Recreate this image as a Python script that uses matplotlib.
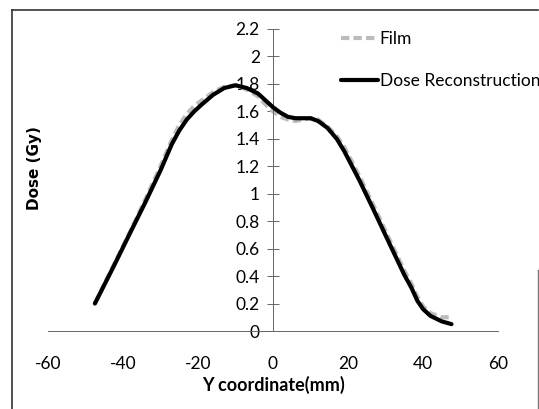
import numpy as np
import matplotlib
matplotlib.use("Agg")
import matplotlib.pyplot as plt
from matplotlib.lines import Line2D
from matplotlib.font_manager import FontProperties

# data
recon_x = [-47.5, -42.5, -38, -34, -30, -27, -25, -23, -21, -19, -16, -13, -10, -7, -4, -2, 0,
           2, 4, 6, 8, 10, 12, 14.5, 17, 19, 23, 26.7, 31, 35, 37, 38.5, 40, 42, 45, 47.6]
recon_y = [0.20, 0.47, 0.72, 0.94, 1.17, 1.36, 1.46, 1.54, 1.60, 1.65, 1.72, 1.77, 1.79, 1.77, 1.73, 1.68, 1.63,
           1.59, 1.56, 1.55, 1.55, 1.55, 1.53, 1.48, 1.40, 1.31, 1.10, 0.89, 0.64, 0.41, 0.31, 0.22, 0.16, 0.11, 0.07, 0.05]

film_x = [-47.5, -42.5, -38, -34, -30, -27, -25, -23, -21, -19, -16, -13, -10, -7, -4, -2, 0,
          2, 4, 6, 8, 10, 12, 14.5, 17, 19, 23, 26.7, 31, 35, 37, 38.5, 40, 42, 45, 47.6]
film_y = [0.20, 0.48, 0.73, 0.96, 1.20, 1.39, 1.50, 1.58, 1.64, 1.68, 1.74, 1.78, 1.79, 1.76, 1.71, 1.65, 1.60,
          1.56, 1.54, 1.53, 1.54, 1.55, 1.54, 1.49, 1.42, 1.34, 1.13, 0.92, 0.67, 0.44, 0.34, 0.25, 0.18, 0.13, 0.10, 0.10]

x_ticks = [-60, -40, -20, 0, 20, 40, 60]
y_ticks = [0, 0.2, 0.4, 0.6, 0.8, 1, 1.2, 1.4, 1.6, 1.8, 2, 2.2]
y_tick_labels = ['0', '0.2', '0.4', '0.6', '0.8', '1', '1.2', '1.4', '1.6', '1.8', '2', '2.2']

plt.rcParams['font.family'] = ['Lato', 'DejaVu Sans']

W, H = 539, 409
fig = plt.figure(figsize=(W / 100, H / 100), dpi=100)
ax = fig.add_axes([48 / W, 1 - 331 / H, 450 / W, 302 / H])

ax.plot(film_x, film_y, color='#bcbcbc', lw=3, dashes=(2, 1), label='Film', zorder=2)
ax.plot(recon_x, recon_y, color='black', lw=3, label='Dose Reconstruction', zorder=3,
        solid_capstyle='round')

ax.set_xlim(-60, 60)
ax.set_ylim(0, 2.2)
ax.set_xticks(x_ticks)
ax.set_yticks(y_ticks)
ax.set_xticklabels([str(v) for v in x_ticks])
ax.set_yticklabels(y_tick_labels)

for s in ['top', 'right']:
    ax.spines[s].set_visible(False)
ax.spines['left'].set_position(('data', 0))
ax.spines['left'].set_color('#666666')
ax.spines['left'].set_linewidth(0.7)
ax.spines['bottom'].set_color('#666666')
ax.spines['bottom'].set_linewidth(0.7)
ax.tick_params(axis='y', direction='inout', length=9, width=0.7, color='#666666',
               pad=5, labelsize=12.5)
ax.tick_params(axis='x', length=0, pad=18, labelsize=12.5)

ax.set_xlabel('Y coordinate(mm)', fontsize=13, fontweight='bold', labelpad=3)
# y label sits near the chart frame, drawn in a wider bold face
ylab_font = FontProperties(family='DejaVu Sans', weight='bold', size=11)
fig.text(35 / W, 1 - 168 / H, 'Dose (Gy)', rotation=90, ha='center', va='center',
         fontproperties=ylab_font)

ax.legend(loc='upper left', bbox_to_anchor=(332 / W, 1 - 22 / H),
          bbox_transform=fig.transFigure, frameon=False, fontsize=12.5,
          handlelength=2.15, handletextpad=0.1, labelspacing=1.5, borderpad=0)

# outer chart frame
fig.add_artist(Line2D([12 / W, 12 / W], [0, 1 - 10 / H], color='#333333', lw=1.2))
fig.add_artist(Line2D([12 / W, 538 / W], [1 - 10 / H, 1 - 10 / H], color='#333333', lw=1.2))
fig.add_artist(Line2D([538 / W, 538 / W], [0, 1 - 270 / H], color='#777777', lw=1))

fig.savefig('out.png', dpi=100)
